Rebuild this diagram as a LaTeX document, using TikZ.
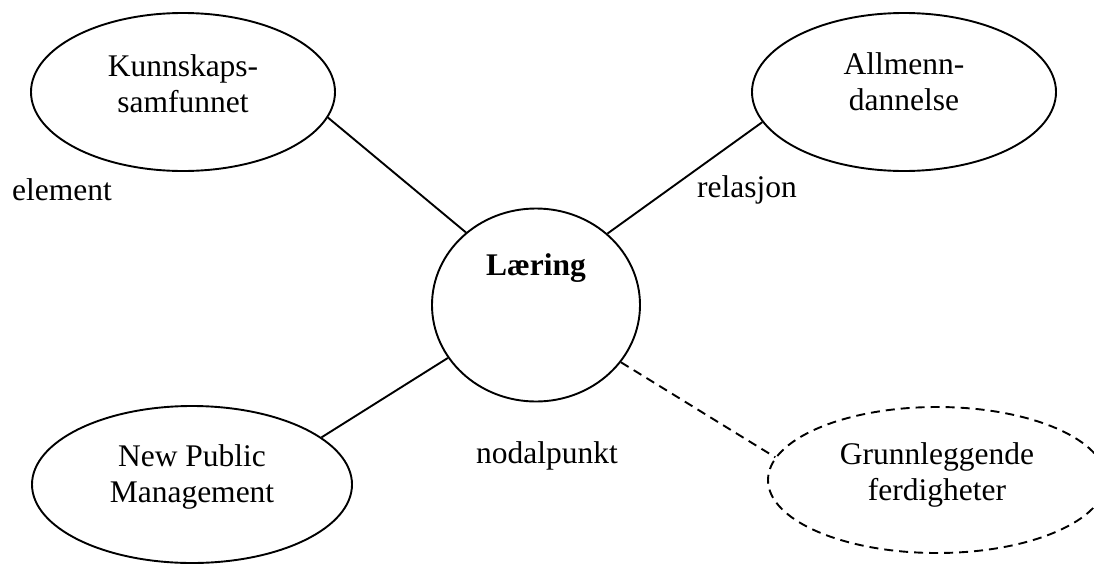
\documentclass[tikz,border=0pt]{standalone}
\usepackage{fontspec}
\setmainfont{Liberation Serif}
\usetikzlibrary{shapes.geometric}
\begin{document}
\begin{tikzpicture}[x=1pt,y=-1pt,
  conn/.style={line width=1.9pt},
  dashconn/.style={line width=1.9pt, dash pattern=on 9pt off 6pt},
  bubble/.style={draw, line width=1.9pt, ellipse, inner sep=0pt},
  txt/.style={font=\fontsize{31.5}{36}\selectfont, align=center},
  lbl/.style={font=\fontsize{31.5}{36}\selectfont, inner sep=0pt}]
\useasboundingbox (0,0) rectangle (1094,565);
\node[bubble, minimum width=304pt, minimum height=158pt,
  label={[txt, yshift=8pt]center:Kunnskaps-\\samfunnet}] (kl) at (183,92) {};
\node[bubble, minimum width=304pt, minimum height=158pt,
  label={[txt, yshift=10pt]center:Allmenn-\\dannelse}] (tr) at (904,92) {};
\node[bubble, minimum width=208pt, minimum height=193pt,
  label={[txt, yshift=37pt]center:\textbf{Læring}}] (l) at (536,305) {};
\node[bubble, minimum width=320pt, minimum height=157pt,
  label={[txt, yshift=8pt]center:New Public\\Management}] (bl) at (192,484.5) {};
\node[bubble, dash pattern=on 9pt off 6pt, minimum width=338pt, minimum height=146pt,
  label={[txt, yshift=5pt]center:Grunnleggende\\ferdigheter}] (br) at (937,480) {};
\node[lbl] (el) at (62,190) {element};
\node[lbl] (re) at (747,190) {relasjon};
\node[lbl] (np) at (547,456) {nodalpunkt};
\draw[conn] (kl.-10) -- (l.134);
\draw[conn] (tr.192) -- (l.45);
\draw[conn] (bl.20) -- (l.211);
\draw[dashconn] (l.-34) -- (br.172);
\end{tikzpicture}
\end{document}
